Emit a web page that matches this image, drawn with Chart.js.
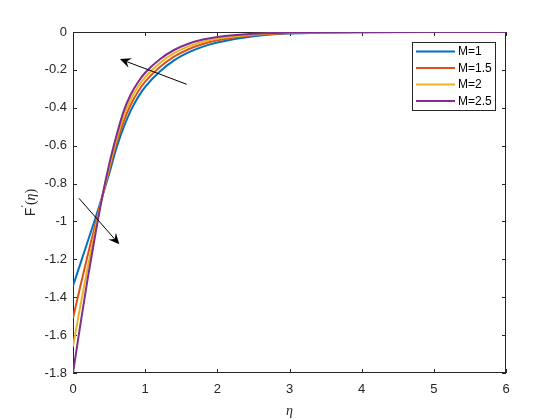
<!DOCTYPE html>
<html>
<head>
<meta charset="utf-8">
<script src="https://cdn.jsdelivr.net/npm/chart.js@4/dist/chart.umd.min.js"></script>
<style>
html, body { margin: 0; padding: 0; background: #fff; }
</style>
</head>
<body>
<canvas id="profileChart" width="560" height="420"></canvas>
<script>
// Data
const eta = [0, 0.1, 0.2, 0.3, 0.4, 0.5, 0.6, 0.7, 0.8, 0.9, 1.0, 1.2, 1.4, 1.6, 1.8, 2.0, 2.5, 3.0, 3.5, 4.0, 5.0, 6.0];
const fM1  = [-1.34, -1.225, -1.11, -0.995, -0.875, -0.75, -0.615, -0.505, -0.415, -0.345, -0.29, -0.21, -0.15, -0.108, -0.077, -0.055, -0.022, -0.008, -0.003, -0.001, 0, 0];
const fM15 = [-1.51, -1.345, -1.184, -1.03, -0.877, -0.73, -0.59, -0.474, -0.384, -0.315, -0.262, -0.186, -0.13, -0.091, -0.063, -0.044, -0.017, -0.006, -0.002, -0.001, 0, 0];
const fM2  = [-1.66, -1.45, -1.25, -1.062, -0.879, -0.715, -0.57, -0.446, -0.356, -0.289, -0.238, -0.165, -0.112, -0.076, -0.051, -0.035, -0.013, -0.004, -0.002, 0, 0, 0];
const fM25 = [-1.8, -1.55, -1.31, -1.09, -0.88, -0.70, -0.55, -0.42, -0.33, -0.265, -0.215, -0.145, -0.095, -0.062, -0.04, -0.026, -0.009, -0.003, -0.001, 0, 0, 0];
const seriesLabels = ['M=1', 'M=1.5', 'M=2', 'M=2.5'];
const seriesColors = ['#0072BD', '#D95319', '#EDB120', '#7E2F8E'];

// Arrow annotations in data coordinates: [fromEta, fromF, toEta, toF]
const arrowUp = [1.575, -0.276, 0.651, -0.143];
const arrowDown = [0.083, -0.878, 0.642, -1.121];

const axisColor = '#262626';

function toPoints(ys) {
    return eta.map((x, i) => ({ x: x, y: ys[i] }));
}

function drawArrow(ctx, x1, y1, x2, y2) {
    const ang = Math.atan2(y2 - y1, x2 - x1);
    const len = 11, half = 5, notch = 7;
    ctx.save();
    ctx.strokeStyle = '#000';
    ctx.fillStyle = '#000';
    ctx.lineWidth = 1;
    ctx.beginPath();
    ctx.moveTo(x1, y1);
    ctx.lineTo(x2 - Math.cos(ang) * notch, y2 - Math.sin(ang) * notch);
    ctx.stroke();
    ctx.translate(x2, y2);
    ctx.rotate(ang);
    ctx.beginPath();
    ctx.moveTo(0, 0);
    ctx.lineTo(-len, -half);
    ctx.lineTo(-notch, 0);
    ctx.lineTo(-len, half);
    ctx.closePath();
    ctx.fill();
    ctx.restore();
}

// Box, inward ticks, arrows, legend and y label in MATLAB style
const matlabAxes = {
    id: 'matlabAxes',
    beforeDatasetsDraw(chart) {
        const { ctx, chartArea: a, scales } = chart;
        ctx.save();
        ctx.strokeStyle = axisColor;
        ctx.lineWidth = 1;
        ctx.strokeRect(a.left + 0.5, a.top + 0.5, a.right - a.left - 1, a.bottom - a.top - 1);
        ctx.beginPath();
        scales.x.ticks.forEach(t => {
            const px = Math.round(scales.x.getPixelForValue(t.value)) + 0.5;
            ctx.moveTo(px, a.bottom); ctx.lineTo(px, a.bottom - 4);
            ctx.moveTo(px, a.top); ctx.lineTo(px, a.top + 4);
        });
        scales.y.ticks.forEach(t => {
            const py = Math.round(scales.y.getPixelForValue(t.value)) + 0.5;
            ctx.moveTo(a.left, py); ctx.lineTo(a.left + 4, py);
            ctx.moveTo(a.right, py); ctx.lineTo(a.right - 4, py);
        });
        ctx.stroke();
        ctx.restore();
    },
    afterDraw(chart) {
        const { ctx, chartArea: a, scales } = chart;
        const sx = scales.x, sy = scales.y;

        [arrowUp, arrowDown].forEach(ar => {
            drawArrow(ctx, sx.getPixelForValue(ar[0]), sy.getPixelForValue(ar[1]),
                sx.getPixelForValue(ar[2]), sy.getPixelForValue(ar[3]));
        });

        // legend
        const lx = a.right - 94, ly = a.top + 10, lw = 83, lh = 68;
        ctx.save();
        ctx.fillStyle = '#fff';
        ctx.fillRect(lx, ly, lw, lh);
        ctx.strokeStyle = axisColor;
        ctx.lineWidth = 1;
        ctx.strokeRect(lx + 0.5, ly + 0.5, lw, lh);
        ctx.font = '12px "Liberation Sans", Arial, sans-serif';
        ctx.textBaseline = 'middle';
        chart.data.datasets.forEach((ds, i) => {
            const yy = ly + 9.5 + i * 16.5;
            ctx.strokeStyle = ds.borderColor;
            ctx.lineWidth = 2;
            ctx.beginPath();
            ctx.moveTo(lx + 4, yy);
            ctx.lineTo(lx + 43, yy);
            ctx.stroke();
            ctx.fillStyle = '#000';
            ctx.fillText(ds.label, lx + 46, yy + 0.5);
        });
        ctx.restore();

        // y axis label F'(eta)
        ctx.save();
        ctx.translate(31, (a.top + a.bottom) / 2);
        ctx.rotate(-Math.PI / 2);
        ctx.fillStyle = axisColor;
        ctx.textBaseline = 'middle';
        const parts = [
            ['F', '14px "Liberation Sans", Arial, sans-serif', 0],
            ['\u2032', '11px "DejaVu Sans", sans-serif', -5],
            ['(', '14px "Liberation Serif", serif', 0],
            ['\u03B7', 'italic 14px "Liberation Serif", serif', 0],
            [')', '14px "Liberation Serif", serif', 0]
        ];
        let total = 0;
        parts.forEach(p => { ctx.font = p[1]; total += ctx.measureText(p[0]).width; });
        let cx = -total / 2;
        parts.forEach(p => {
            ctx.font = p[1];
            ctx.fillText(p[0], cx, p[2]);
            cx += ctx.measureText(p[0]).width;
        });
        ctx.restore();
    }
};

const ctx = document.getElementById('profileChart').getContext('2d');
new Chart(ctx, {
    type: 'line',
    data: {
        datasets: [fM1, fM15, fM2, fM25].map((ys, i) => ({
            label: seriesLabels[i],
            data: toPoints(ys),
            borderColor: seriesColors[i],
            backgroundColor: seriesColors[i],
            borderWidth: 2,
            pointRadius: 0,
            fill: false,
            order: 3 - i,
            cubicInterpolationMode: 'monotone'
        }))
    },
    options: {
        responsive: false,
        animation: false,
        layout: { padding: { top: 32, right: 54, left: 0, bottom: 0 } },
        plugins: {
            legend: { display: false },
            tooltip: { enabled: false }
        },
        scales: {
            x: {
                type: 'linear',
                min: 0,
                max: 6,
                ticks: { stepSize: 1, color: axisColor, font: { family: '"Liberation Sans", Arial, sans-serif', size: 13 }, padding: 9, maxRotation: 0 },
                grid: { display: false, drawTicks: false },
                border: { display: false },
                title: { display: true, text: '\u03B7', color: axisColor, font: { family: '"Liberation Serif", serif', style: 'italic', size: 14 }, padding: { top: 0, bottom: 0 } },
                afterFit(scale) { scale.height = 47; }
            },
            y: {
                min: -1.8,
                max: 0,
                ticks: {
                    stepSize: 0.2,
                    color: axisColor,
                    font: { family: '"Liberation Sans", Arial, sans-serif', size: 13 },
                    padding: 6,
                    callback: v => String(Math.round(v * 10) / 10)
                },
                grid: { display: false, drawTicks: false },
                border: { display: false },
                afterFit(scale) { scale.width = 73; }
            }
        }
    },
    plugins: [matlabAxes]
});
</script>
</body>
</html>
